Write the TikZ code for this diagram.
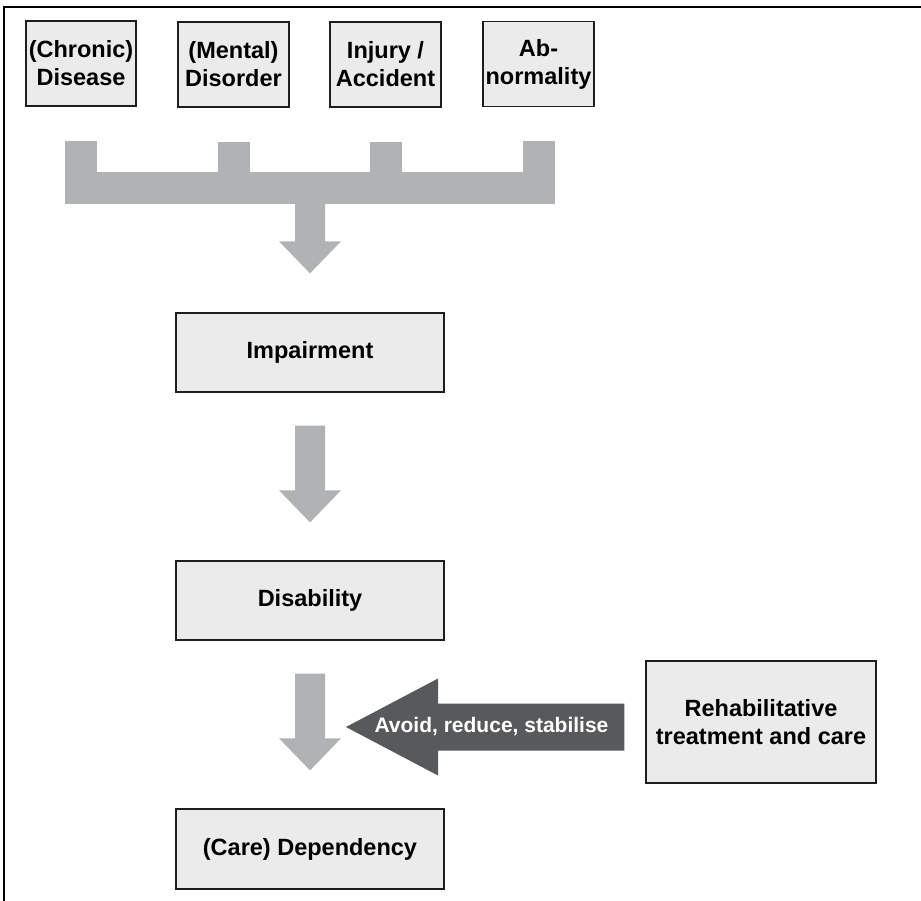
\documentclass[tikz,border=0pt]{standalone}
\usepackage{fontspec}
\setmainfont{Liberation Sans}
\usetikzlibrary{calc}
\definecolor{boxfill}{HTML}{EBEBEB}
\definecolor{boxline}{HTML}{1E1E1E}
\definecolor{garrowc}{HTML}{B1B2B4}
\definecolor{darrowc}{HTML}{58595B}
\tikzset{
  box/.style={draw=boxline, fill=boxfill, line width=1.3pt, inner sep=0pt, align=center,
    font=\fontsize{23.5}{28}\selectfont\bfseries},
  topbox/.style={box, minimum width=111pt, minimum height=85pt},
  midbox/.style={box, minimum width=268pt, minimum height=79pt},
  garrow/.style={fill=garrowc},
  darrow/.style={fill=darrowc},
  avoidtxt/.style={text=white, inner sep=0pt, font=\fontsize{21}{24}\selectfont\bfseries},
  frameline/.style={draw=black, line width=2.5pt}
}
\newcommand{\gArrow}[4]{%
  \fill[garrow] let \p1=(#1), \p2=(#2) in
    (\x1-15pt,\y1-#3) -- (\x1-15pt,\y2+#4+32pt) -- (\x1-31pt,\y2+#4+32pt) -- (\x1,\y2+#4)
    -- (\x1+31pt,\y2+#4+32pt) -- (\x1+15pt,\y2+#4+32pt) -- (\x1+15pt,\y1-#3) -- cycle;}
\begin{document}
\begin{tikzpicture}[x=1pt,y=-1pt]
\useasboundingbox (0,0) rectangle (921,900);
% frame
\draw[frameline] (4,901) -- (4,7) -- (922,7);
% top boxes
\node[topbox, minimum width=110pt] (b1) at (81,63.5) {(Chronic)\\Disease};
\node[topbox] (b2) at (233.5,64.5) {(Mental)\\Disorder};
\node[topbox] (b3) at (385.5,64.5) {Injury /\\Accident};
\node[topbox] (b4) at (538.5,64) {Ab-\\normality};
% collecting bar
\node[garrow, inner sep=0pt, minimum width=490pt, minimum height=32pt] (bar) at (310,188) {};
\foreach \b in {b1,b2,b3,b4}{
  \fill[garrow] let \p1=(\b.south), \p2=(bar.north) in (\x1-16pt,\y1-34pt) rectangle (\x1+16pt,\y2-1pt);
}
% chain
\node[midbox] (imp) at (310,352.5) {Impairment};
\node[midbox] (dis) at (310,600.5) {Disability};
\node[midbox, minimum height=80pt] (dep) at (310,849) {(Care) Dependency};
\node[box, minimum width=230pt, minimum height=122pt] (reh) at (761,722) {Rehabilitative\\treatment and care};
\gArrow{bar.south}{imp.north}{0pt}{39pt}
\gArrow{imp.south}{dis.north}{33pt}{38pt}
\gArrow{dis.south}{dep.north}{33pt}{38pt}
% dark arrow
\coordinate (tipA) at (346,727);
\fill[darrow] let \p1=(reh.west), \p2=(tipA) in
  (\x2,\y2) -- (\x2+92pt,\y2+48.5pt) -- (\x2+92pt,\y2+23.5pt) -- (\x1-21pt,\y2+23.5pt)
  -- (\x1-21pt,\y2-23.5pt) -- (\x2+92pt,\y2-23.5pt) -- (\x2+92pt,\y2-48.5pt) -- cycle
  node[avoidtxt] (avoid) at (\x2+145.5pt,\y2) {Avoid, reduce, stabilise};
\end{tikzpicture}
\end{document}
